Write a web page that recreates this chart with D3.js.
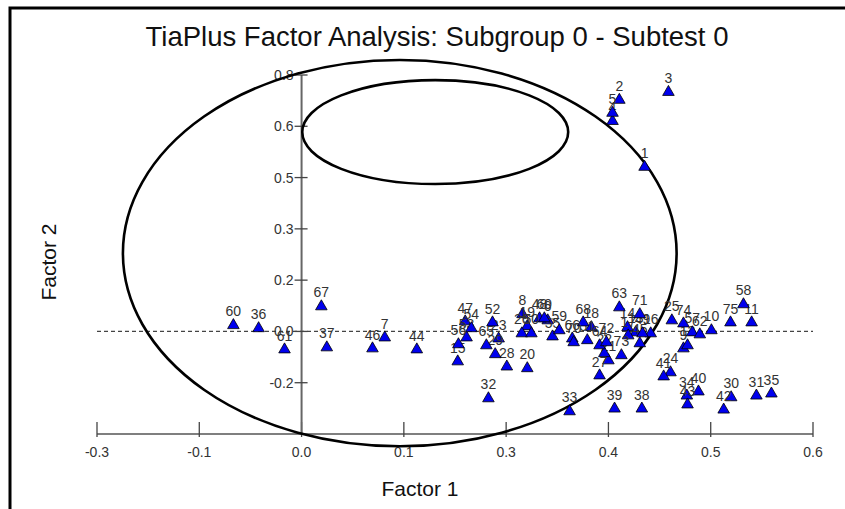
<!DOCTYPE html>
<html>
<head>
<meta charset="utf-8">
<script src="https://cdn.jsdelivr.net/npm/d3@7"></script>
<style>
  body { margin: 0; background: #fff; }
  text { font-family: Arial, "Liberation Sans", sans-serif; }
</style>
</head>
<body>
<div id="holder"></div>
<script>
// item labels and factor loadings
var items = [1,2,3,4,5,6,7,8,9,10,11,12,13,14,15,16,17,18,19,20,21,22,23,24,25,
  26,27,28,29,30,31,32,33,34,35,36,37,38,39,40,41,42,43,44,45,46,47,48,49,50,
  51,52,53,54,55,56,57,58,59,60,61,62,63,64,65,66,67,68,69,70,71,72,73,74,75];
var factor1 = [0.503,0.466,0.538,0.456,0.456,0.361,0.122,0.324,0.560,0.601,0.660,0.566,0.490,0.478,0.229,
  0.512,0.479,0.425,0.331,0.331,0.450,0.444,0.289,0.541,0.543,0.323,0.437,0.301,0.284,0.630,
  0.667,0.274,0.393,0.565,0.689,-0.063,0.037,0.499,0.459,0.582,0.531,0.619,0.566,0.169,0.496,
  0.104,0.240,0.349,0.500,0.337,0.419,0.280,0.242,0.249,0.368,0.230,0.573,0.648,0.378,-0.100,
  -0.025,0.584,0.466,0.437,0.271,0.397,0.029,0.413,0.356,0.399,0.496,0.447,0.469,0.560,0.629];
var factor2 = [0.481,0.677,0.700,0.615,0.639,0.032,-0.018,0.050,-0.050,0.003,0.026,-0.041,-0.003,0.012,-0.088,
  -0.006,-0.012,0.012,0.015,-0.108,-0.085,-0.064,-0.021,-0.120,0.032,-0.006,-0.129,-0.103,-0.067,-0.193,
  -0.188,-0.196,-0.234,-0.188,-0.182,0.009,-0.047,-0.226,-0.226,-0.176,-0.132,-0.229,-0.214,-0.053,-0.035,
  -0.050,0.029,0.038,-0.006,-0.006,-0.026,0.026,-0.018,0.009,-0.015,-0.038,-0.003,0.079,0.003,0.018,
  -0.053,-0.009,0.070,-0.041,-0.041,-0.021,0.073,0.026,0.038,-0.032,0.050,-0.032,-0.070,0.023,0.026];

// tick positions and the labels printed at them
var xTicks = [-0.3,-0.15,0,0.15,0.3,0.45,0.6,0.75];
var xTickLabels = ["-0.3","-0.1","0.0","0.1","0.3","0.4","0.5","0.6"];
var yTicks = [0.75,0.6,0.45,0.3,0.15,0,-0.15];
var yTickLabels = ["0.8","0.6","0.5","0.3","0.2","0.0","-0.2"];

// ellipses: [cx, cy, rx, ry] in data units
var ellipses = [[0.144,0.229,0.406,0.565],[0.196,0.583,0.195,0.152]];

var W = 845, H = 509;
var svg = d3.select('#holder').append('svg').attr('width', W).attr('height', H);

var x = d3.scaleLinear().domain([-0.3, 0.75]).range([97, 813]);
var y = d3.scaleLinear().domain([-0.3, 0.75]).range([434, 75]);

// frame
svg.append('path').attr('d', 'M10,509 L10,8 L845,8')
  .attr('fill', 'none').attr('stroke', '#000').attr('stroke-width', 3);

svg.append('text').attr('x', 437).attr('y', 46).attr('text-anchor', 'middle')
  .attr('font-size', 27.5).attr('fill', '#111')
  .text('TiaPlus Factor Analysis: Subgroup 0 - Subtest 0');

// zero line
svg.append('line').attr('x1', x(-0.3)).attr('x2', x(0.75)).attr('y1', y(0)).attr('y2', y(0))
  .attr('stroke', '#444').attr('stroke-dasharray', '4,3').attr('stroke-width', 1.2);

// x axis
var xg = svg.append('g');
xg.append('line').attr('x1', x(-0.3)).attr('x2', x(0.75)).attr('y1', y(-0.3)).attr('y2', y(-0.3))
  .attr('stroke', '#555').attr('stroke-width', 1.5);
xTicks.forEach(function(t, i) {
  xg.append('line').attr('x1', x(t)).attr('x2', x(t)).attr('y1', y(-0.3) - 12).attr('y2', y(-0.3) + 3)
    .attr('stroke', '#444').attr('stroke-width', 1.3);
  xg.append('text').attr('x', x(t)).attr('y', y(-0.3) + 23).attr('text-anchor', 'middle')
    .attr('font-size', 14).attr('fill', '#333').text(xTickLabels[i]);
});

// y axis
var yg = svg.append('g');
yg.append('line').attr('x1', x(0)).attr('x2', x(0)).attr('y1', y(0.75)).attr('y2', y(-0.3))
  .attr('stroke', '#666').attr('stroke-width', 2);
yTicks.forEach(function(t, i) {
  yg.append('line').attr('x1', x(0) - 7).attr('x2', x(0) + 6).attr('y1', y(t)).attr('y2', y(t))
    .attr('stroke', '#444').attr('stroke-width', 1.3);
  yg.append('text').attr('x', x(0) - 8).attr('y', y(t) + 5).attr('text-anchor', 'end')
    .attr('font-size', 14).attr('fill', '#333').text(yTickLabels[i]);
});

// axis titles
svg.append('text').attr('x', 420).attr('y', 496).attr('text-anchor', 'middle')
  .attr('font-size', 21).attr('fill', '#111').text('Factor 1');
svg.append('text').attr('transform', 'translate(56,262) rotate(-90)').attr('text-anchor', 'middle')
  .attr('font-size', 21).attr('fill', '#111').text('Factor 2');

// ellipses
ellipses.forEach(function(e) {
  svg.append('ellipse').attr('cx', x(e[0])).attr('cy', y(e[1]))
    .attr('rx', x(e[2]) - x(0)).attr('ry', y(0) - y(e[3]))
    .attr('fill', 'none').attr('stroke', '#000').attr('stroke-width', 2.6);
});

// points
var tri = d3.symbol().type(d3.symbolTriangle).size(58);
items.forEach(function(id, i) {
  var px = x(factor1[i]), py = y(factor2[i]);
  svg.append('path').attr('d', tri).attr('transform', 'translate(' + px + ',' + py + ')')
    .attr('fill', '#0000ee').attr('stroke', '#000').attr('stroke-width', 0.8);
  svg.append('text').attr('x', px).attr('y', py - 9).attr('text-anchor', 'middle')
    .attr('font-size', 14).attr('fill', '#333').text(id);
});
</script>
</body>
</html>
